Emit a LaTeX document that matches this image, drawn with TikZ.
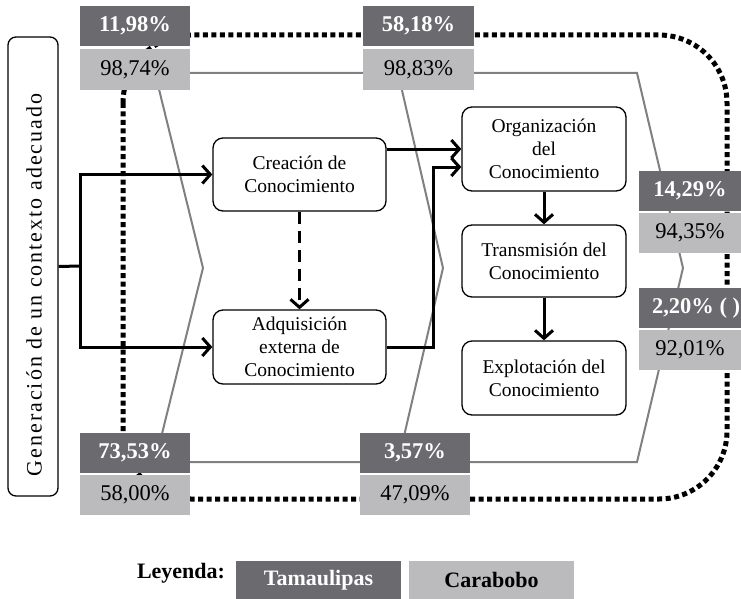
\documentclass[tikz,border=0pt]{standalone}
\usepackage{fontspec}
\setmainfont{Liberation Serif}
\usetikzlibrary{arrows.meta}
\definecolor{dkgray}{HTML}{6B6B6F}
\definecolor{ltgray}{HTML}{BBBBBE}
\definecolor{lngray}{HTML}{808080}
\newcommand\fPctB{\fontsize{22.5}{24}\selectfont\bfseries}
\newcommand\fPct{\fontsize{22.5}{24}\selectfont}
\newcommand\fProc{\fontsize{19.5}{23}\selectfont}
\newcommand\fGen{\fontsize{22}{24}\selectfont\addfontfeature{LetterSpace=9}}
\newcommand\fLeg{\fontsize{22}{24}\selectfont\bfseries}
\tikzset{
  dk/.style={fill=dkgray, text=white, font=\fPctB, minimum width=110pt, minimum height=40pt, inner sep=0pt},
  lt/.style={fill=ltgray, text=black, font=\fPct, minimum width=110pt, minimum height=41pt, inner sep=0pt},
  proc/.style={draw, line width=1.3pt, rounded corners=10pt, fill=white, align=center, font=\fProc, inner sep=0pt},
  arr/.style={line width=3pt, -{Straight Barb[length=8pt,width=18pt]}},
  thk/.style={line width=3pt},
  dsh/.style={dash pattern=on 12pt off 7pt},
  dotline/.style={line width=5pt, dash pattern=on 5pt off 3.5pt},
  gry/.style={draw=lngray, line width=2pt, line join=miter},
}
\begin{document}
\begin{tikzpicture}[x=1pt,y=-1pt]
\useasboundingbox (0,0) rectangle (741,599);

% dotted frame
\draw[dotline, rounded corners=68pt] (123,35) rectangle (727,499);

% gray chevrons
\draw[gry] (155,73) -- (637,73) -- (683,268) -- (637,462) -- (155,462) -- (203,268) -- cycle;
\draw[gry] (398,73) -- (443,268) -- (398,462);

% left box
\node[draw, line width=1.3pt, rounded corners=8pt, minimum width=50pt, minimum height=459pt, inner sep=0pt] (gen) at (33,266.5) {};
\node[rotate=90, font=\fGen, inner sep=0pt] (gentext) at (34,285) {Generación de un contexto adecuado};

% process boxes
\node[proc, minimum width=173pt, minimum height=73pt] (crea) at (299.5,174.5) {Creación de\\Conocimiento};
\node[proc, minimum width=173pt, minimum height=74pt] (adq) at (299.5,347) {Adquisición\\externa de\\Conocimiento};
\node[proc, minimum width=164pt, minimum height=84pt] (org) at (544,149) {Organización\\del\\Conocimiento};
\node[proc, minimum width=164pt, minimum height=72pt] (trans) at (544,261) {Transmisión del\\Conocimiento};
\node[proc, minimum width=164pt, minimum height=74pt] (expl) at (544,378) {Explotación del\\Conocimiento};

% connectors
\coordinate (j) at (80,266);
\coordinate (k) at (433,167);
\draw[thk] (gen.east) -- (j);
\draw[arr] (j) |- (crea.west);
\draw[arr] (j) |- (adq.west);
\draw[arr] (crea.east |- org.west) -- (org.west);
\draw[arr] (adq.east) -| (k) -- (k -| org.west);
\draw[arr, dsh] (crea.south) -- (adq.north);
\draw[arr] (org.south) -- (trans.north);
\draw[arr] (trans.south) -- (expl.north);

% percentage boxes
\node[dk] (t1) at (135,26) {11,98\%};
\node[lt] (l1) at (135,70) {98,74\%};
\node[dk, minimum width=111pt] (t2) at (418.5,26) {58,18\%};
\node[lt, minimum width=111pt] (l2) at (418.5,70) {98,83\%};
\node[dk, minimum width=102pt] (t3) at (690,191) {14,29\%};
\node[lt, minimum width=102pt, minimum height=40pt] (l3) at (690,232.5) {94,35\%};
\node[dk, minimum width=102pt] (t4) at (690,308) {\makebox[102pt][l]{\hspace*{13pt}2,20\% ( )}};
\node[lt, minimum width=102pt, minimum height=40pt] (l4) at (690,349.5) {92,01\%};
\node[dk] (t5) at (135,453) {73,53\%};
\node[lt, minimum height=40pt] (l5) at (135,495) {58,00\%};
\node[dk] (t6) at (415,453) {3,57\%};
\node[lt, minimum height=40pt] (l6) at (415,495) {47,09\%};

% legend
\node[font=\fLeg, anchor=center] (ley) at (181,573) {Leyenda:};
\node[fill=dkgray, text=white, font=\fLeg, minimum width=165pt, minimum height=38pt, inner sep=0pt] (tam) at (318.5,580) {Tamaulipas};
\node[fill=ltgray, text=black, font=\fLeg, minimum width=165pt, minimum height=38pt, inner sep=0pt] (car) at (491.5,580) {Carabobo};
\end{tikzpicture}
\end{document}
